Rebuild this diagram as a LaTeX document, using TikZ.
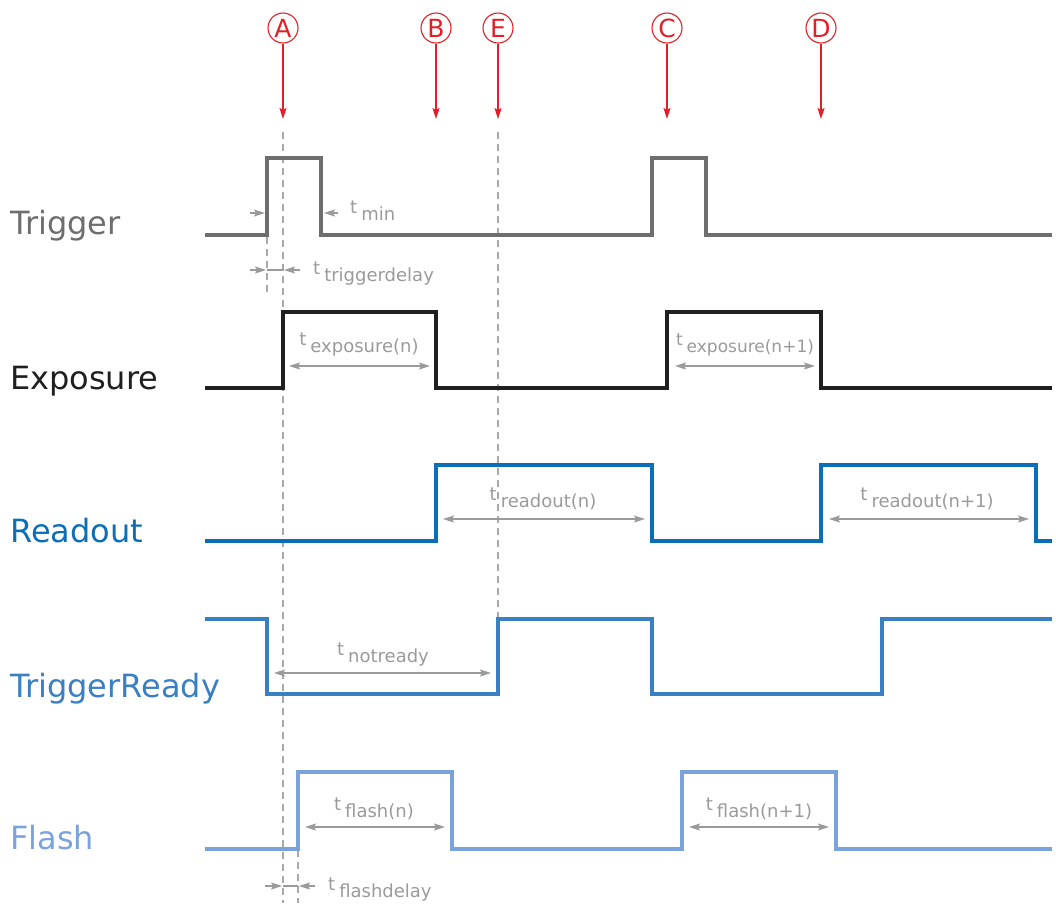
\documentclass[tikz,border=0pt]{standalone}
\usepackage{fontspec}
\setmainfont{DejaVu Sans}
\usepackage{tikz}
\usetikzlibrary{arrows.meta}
\definecolor{trigcol}{HTML}{6E6E6E}
\definecolor{expcol}{HTML}{1F1F1F}
\definecolor{readcol}{HTML}{0A6EB8}
\definecolor{readycol}{HTML}{3A7FC4}
\definecolor{flashcol}{HTML}{7BA3DB}
\definecolor{dimgray}{HTML}{9A9A9A}
\definecolor{guidegray}{HTML}{A8A8A8}
\definecolor{markred}{HTML}{E31E24}
\newcommand{\tlbl}[1]{t\hspace{4pt}\raisebox{-7pt}{#1}}

\begin{document}
\begin{tikzpicture}[x=1pt,y=-1pt,>={Stealth[length=11pt,width=7pt,inset=2pt]},
  sig/.style={line width=3.2pt,line join=miter},
  dim/.style={draw=dimgray,line width=1.1pt},
  guide/.style={draw=guidegray,line width=1.3pt,dash pattern=on 7pt off 5pt},
  mark node/.style={circle,draw=markred,text=markred,line width=1.1pt,
    inner sep=0pt,minimum size=30pt,font=\fontsize{25}{25}\selectfont},
  sig name/.style={anchor=base west,inner sep=0pt,font=\fontsize{32}{32}\selectfont},
  tlabel/.style={anchor=base,inner sep=0pt,text=dimgray,font=\fontsize{18}{18}\selectfont}]

  \useasboundingbox (0,0) rectangle (1056,903);

  % markers
  \foreach \n/\x in {A/283,B/436,E/498,C/667,D/821}{
    \node[mark node] (\n) at (\x,28) {\n};
    \coordinate (\n tip) at (\x,119);
    \draw[->,markred,line width=1.3pt] (\n) -- (\n tip);
  }

  % guide lines
  \draw[guide] (283,132) -- (283,903);
  \draw[guide] (498,132) -- (498,620);
  \draw[guide] (267,237) -- (267,292);
  \draw[guide] (298,850) -- (298,903);

  % signal names
  \node[sig name,text=trigcol] (trig) at (10,234) {Trigger};
  \node[sig name,text=expcol] (exp) at (10,389) {Exposure};
  \node[sig name,text=readcol] (read) at (10,542) {Readout};
  \node[sig name,text=readycol] (ready) at (10,697) {TriggerReady};
  \node[sig name,text=flashcol] (flash) at (10,849) {Flash};

  % waveforms
  \draw[sig,trigcol] (205,235) -- (267,235) -- (267,158) -- (321,158) -- (321,235)
    -- (652,235) -- (652,158) -- (706,158) -- (706,235) -- (1052,235);
  \draw[sig,expcol] (205,388) -- (283,388) -- (283,312) -- (436,312) -- (436,388)
    -- (667,388) -- (667,312) -- (821,312) -- (821,388) -- (1052,388);
  \draw[sig,readcol] (205,541) -- (436,541) -- (436,465) -- (652,465) -- (652,541)
    -- (821,541) -- (821,465) -- (1036,465) -- (1036,541) -- (1052,541);
  \draw[sig,readycol] (205,619) -- (267,619) -- (267,694) -- (498,694) -- (498,619)
    -- (652,619) -- (652,694) -- (882,694) -- (882,619) -- (1052,619);
  \draw[sig,flashcol] (205,849) -- (298,849) -- (298,772) -- (452,772) -- (452,849)
    -- (682,849) -- (682,772) -- (836,772) -- (836,849) -- (1052,849);

  % timings
  \draw[dim,->] (250,213) -- (265,213);
  \draw[dim,->] (338,213) -- (324,213);
  \node[tlabel,anchor=base west] (tmin) at (350,213) {\tlbl{min}};

  \draw[dim,->] (250,270) -- (266,270);
  \draw[dim] (267,270) -- (283,270);
  \draw[dim,->] (300,270) -- (284,270);
  \node[tlabel,anchor=base west] (tdel) at (313,274) {\tlbl{triggerdelay}};

  \draw[dim,<->] (289,366) -- (430,366);
  \node[tlabel] (texp) at (359,345) {\tlbl{exposure(n)}};
  \draw[dim,<->] (675,366) -- (815,366);
  \node[tlabel,font=\fontsize{17}{17}\selectfont] (texp2) at (745,345) {\tlbl{exposure(n+1)}};

  \draw[dim,<->] (443,519) -- (645,519);
  \node[tlabel] (tread) at (543,500) {\tlbl{readout(n)}};
  \draw[dim,<->] (829,519) -- (1029,519);
  \node[tlabel] (tread2) at (927,500) {\tlbl{readout(n+1)}};

  \draw[dim,<->] (274,673) -- (491,673);
  \node[tlabel] (tnot) at (383,655) {\tlbl{notready}};

  \draw[dim,<->] (305,827) -- (445,827);
  \node[tlabel] (tfl) at (374,810) {\tlbl{flash(n)}};
  \draw[dim,<->] (689,827) -- (829,827);
  \node[tlabel] (tfl2) at (759,810) {\tlbl{flash(n+1)}};

  \draw[dim,->] (265,886) -- (282,886);
  \draw[dim] (283,886) -- (298,886);
  \draw[dim,->] (315,886) -- (299,886);
  \node[tlabel,anchor=base west] (tfdel) at (328,890) {\tlbl{flashdelay}};
\end{tikzpicture}
\end{document}
